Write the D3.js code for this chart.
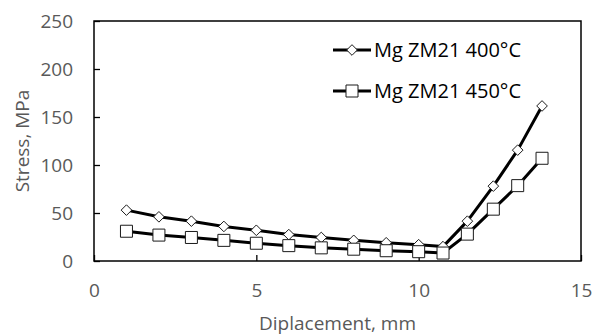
<!DOCTYPE html>
<html><head><meta charset="utf-8">
<script src="https://cdn.jsdelivr.net/npm/d3@7"></script>
<style>
html,body{margin:0;padding:0;background:#fff;}
svg{display:block;font-family:"Open Sans",sans-serif;}
</style></head>
<body><svg id="c" width="592" height="335"></svg>
<script>
const displacement = [1,2,3,4,5,6,7,8,9,10,10.75,11.5,12.3,13.05,13.8];
const stress400 = [53,46,41.5,36,32,27.5,24.5,21.5,19,17,15,41.5,78,115.5,161.5];
const stress450 = [31,27,24.5,21.5,18.5,16,13.7,12.3,10.7,9.7,8.3,28,54,78.5,107];
const seriesNames = ["Mg ZM21 400°C","Mg ZM21 450°C"];
const xTicks = [0,5,10,15];
const yTicks = [0,50,100,150,200,250];
const xTitle = "Diplacement, mm";
const yTitle = "Stress, MPa";

const W=592,H=335, m={l:94,t:21,r:11,b:74};
const svg=d3.select("#c");
const x=d3.scaleLinear().domain([0,15]).range([m.l,W-m.r]);
const y=d3.scaleLinear().domain([0,250]).range([H-m.b,m.t]);
const gray="#595959";
const fs="19px";

const xa=svg.append("g").attr("transform",`translate(0,${H-m.b})`)
  .call(d3.axisBottom(x).tickValues(xTicks).tickSizeInner(-6).tickSizeOuter(0).tickPadding(23).tickFormat(d3.format("d")));
const ya=svg.append("g").attr("transform",`translate(${m.l},0)`)
  .call(d3.axisLeft(y).tickValues(yTicks).tickSizeInner(-6).tickSizeOuter(0).tickPadding(21).tickFormat(d3.format("d")));
[xa,ya].forEach(g=>{
  g.select(".domain").remove();
  g.selectAll(".tick line").attr("stroke","#000").attr("stroke-width",1.3);
  g.selectAll(".tick text").attr("fill",gray).style("font-size",fs).style("font-family","'Open Sans',sans-serif");
});
ya.selectAll(".tick text").attr("dy","0.35em");
svg.append("rect").attr("x",m.l).attr("y",m.t).attr("width",W-m.l-m.r).attr("height",H-m.t-m.b)
  .attr("fill","none").attr("stroke","#000").attr("stroke-width",1.5);

svg.append("text").attr("x",(m.l+W-m.r)/2).attr("y",330).attr("text-anchor","middle")
  .attr("fill",gray).style("font-size",fs).text(xTitle);
svg.append("text").attr("transform",`translate(29,${(m.t+H-m.b)/2}) rotate(-90)`).attr("text-anchor","middle")
  .attr("fill",gray).style("font-size",fs).text(yTitle);

const diamond=d3.symbol().type(d3.symbolDiamond2).size(72);
const square=d3.symbol().type(d3.symbolSquare).size(144);
const line=d3.line().x(d=>x(d[0])).y(d=>y(d[1]));
const series=[{vals:stress400,sym:diamond},{vals:stress450,sym:square}];
series.forEach(s=>{
  const pts=displacement.map((d,i)=>[d,s.vals[i]]);
  svg.append("path").datum(pts).attr("d",line).attr("fill","none").attr("stroke","#000").attr("stroke-width",3).attr("stroke-linejoin","round");
  svg.append("g").selectAll("path").data(pts).join("path")
    .attr("transform",d=>`translate(${x(d[0])},${y(d[1])})`).attr("d",s.sym)
    .attr("fill","#fff").attr("stroke","#1a1a1a").attr("stroke-width",1);
});

// legend
const lg=[{y:50,sym:diamond},{y:91,sym:square}];
lg.forEach((l,i)=>{
  svg.append("line").attr("x1",333).attr("x2",371).attr("y1",l.y).attr("y2",l.y).attr("stroke","#000").attr("stroke-width",3);
  svg.append("path").attr("transform",`translate(352,${l.y})`).attr("d",l.sym).attr("fill","#fff").attr("stroke","#1a1a1a").attr("stroke-width",1);
  svg.append("text").attr("x",374).attr("y",l.y+7).attr("fill","#000").style("font-size","20px").text(seriesNames[i]);
});
</script></body></html>
